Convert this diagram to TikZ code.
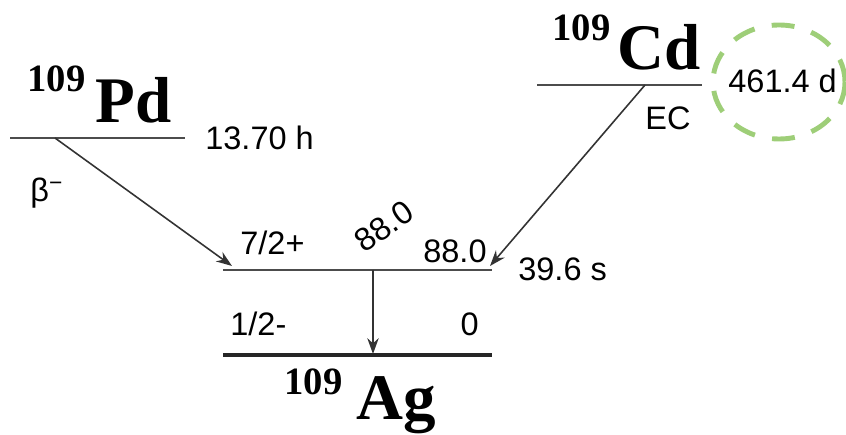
\documentclass[tikz,border=0pt]{standalone}
\usepackage{fontspec}
\setmainfont{Liberation Sans}
\newfontfamily\elfont{Liberation Serif}
\usetikzlibrary{arrows.meta}
\definecolor{markgreen}{RGB}{158,206,120}
\begin{document}
\begin{tikzpicture}[x=0.02cm,y=-0.02cm,
  lbl/.style={font=\fontsize{18.5}{20}\selectfont, inner sep=0pt, anchor=base west},
  iso/.style={font=\elfont\bfseries\fontsize{37}{39}\selectfont, inner sep=0pt, anchor=base west},
  mass/.style={font=\elfont\bfseries\fontsize{22}{24}\selectfont, inner sep=0pt, anchor=base west},
  level/.style={line width=1.3pt, draw=black!70},
  ground/.style={line width=2.4pt, draw=black!85},
  trans/.style={-{Stealth[length=9pt,width=6.5pt]}, line width=0.9pt, draw=black!80}]
\useasboundingbox (0,0) rectangle (846,435);
% levels
\coordinate (pdL) at (10,138);
\coordinate (pdR) at (185,138);
\coordinate (cdL) at (537,85);
\coordinate (cdR) at (702,85);
\coordinate (exL) at (223,270);
\coordinate (exR) at (492,270);
\coordinate (gsL) at (223,355);
\coordinate (gsR) at (492,355);
\draw [level] (pdL) -- (pdR);
\draw [level] (cdL) -- (cdR);
\draw [level] (exL) -- (exR);
\draw [ground] (gsL) -- (gsR);
% transition end points
\coordinate (pdOut) at (55,138);
\coordinate (pdIn) at (232,266);
\coordinate (cdOut) at (645,85);
\coordinate (cdIn) at (490,266);
\coordinate (exOut) at (373,270);
\coordinate (gsIn) at (373,354);
\draw [trans] (pdOut) -- (pdIn);
\draw [trans] (cdOut) -- (cdIn);
\draw [trans] (exOut) -- (gsIn);
% isotopes
\node [mass] (pdA) at (27,92) {109};
\node [iso] (pdN) at (95,123) {Pd};
\node [mass] (cdA) at (552,41) {109};
\node [iso] (cdN) at (617,70) {Cd};
\node [mass] (agA) at (284,395) {109};
\node [iso] (agN) at (356,420) {Ag};
% labels
\node [lbl] (pdT) at (205,150) {13.70 h};
\node [lbl] (beta) at (30,202) {β\textsuperscript{−}};
\node [lbl] (ec) at (645,130) {EC};
\node [lbl] (cdT) at (728,93) {461.4 d};
\node [lbl] (spinEx) at (240,255) {7/2+};
\node [lbl, rotate=35] (eGam) at (364,254) {88.0};
\node [lbl] (eEx) at (423,263) {88.0};
\node [lbl] (exT) at (518,281) {39.6 s};
\node [lbl] (spinGs) at (230,336) {1/2-};
\node [lbl, anchor=base east] (eGs) at (479,336) {0};
% mark
\draw [markgreen, line width=2.8pt, dash pattern=on 13pt off 10pt] (779,82) ellipse [x radius=66, y radius=57];
\end{tikzpicture}
\end{document}
